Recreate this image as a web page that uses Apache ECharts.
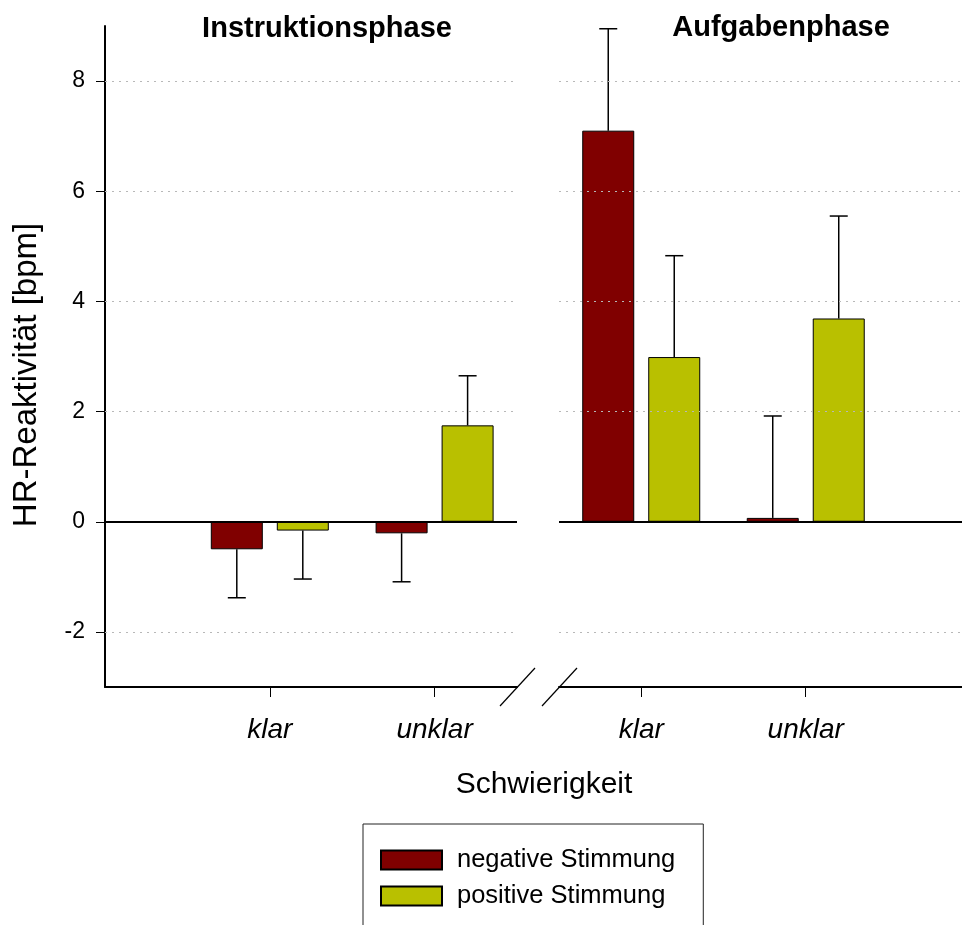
<!DOCTYPE html>
<html>
<head>
<meta charset="utf-8">
<script src="https://cdn.jsdelivr.net/npm/echarts@6/dist/echarts.min.js"></script>
<style>
html,body{margin:0;padding:0;background:#fff;}
#chart{width:962px;height:925px;}
</style>
</head>
<body>
<div id="chart"></div>
<script>
// ---- data ----
var categories = ['klar', 'unklar'];
var panelTitles = ['Instruktionsphase', 'Aufgabenphase'];
var seriesNames = ['negative Stimmung', 'positive Stimmung'];
var yTicks = [-2, 0, 2, 4, 6, 8];
var gridValues = [-2, 2, 4, 6, 8];
// Instruktionsphase
var instrNeg = [-0.50, -0.21];
var instrNegErr = [0.88, 0.88];
var instrPos = [-0.16, 1.75];
var instrPosErr = [0.88, 0.90];
// Aufgabenphase
var taskNeg = [7.10, 0.07];
var taskNegErr = [1.85, 1.85];
var taskPos = [2.99, 3.69];
var taskPosErr = [1.84, 1.86];

var catPos = [1, 2];
var colors = ['#800000', '#B9C000'];
var barW = 52, barGapPx = 14;
var off = (barW + barGapPx) / 2;

function pairs(vals) { return vals.map(function (v, i) { return [catPos[i], v]; }); }
function errData(vals, errs, side) {
  return vals.map(function (v, i) { return [catPos[i], v, errs[i], side]; });
}

var FONT = 'Liberation Sans, Arial, sans-serif';

function errorSeries(name, idx, data) {
  return {
    name: name, type: 'custom', xAxisIndex: idx, yAxisIndex: idx, z: 3,
    silent: true,
    renderItem: function (params, api) {
      var x = api.value(0), y = api.value(1), e = api.value(2), s = api.value(3);
      var sign = y >= 0 ? 1 : -1;
      var p0 = api.coord([x, y]);
      var p1 = api.coord([x, y + sign * e]);
      var cx = p0[0] + s * off;
      var st = { stroke: '#000', lineWidth: 1.5 };
      return {
        type: 'group',
        children: [
          { type: 'line', shape: { x1: cx, y1: p0[1], x2: cx, y2: p1[1] }, style: st },
          { type: 'line', shape: { x1: cx - 9, y1: p1[1], x2: cx + 9, y2: p1[1] }, style: st }
        ]
      };
    },
    data: data
  };
}

function refLines() {
  return {
    silent: true, symbol: 'none', animation: false,
    label: { show: false },
    data: gridValues.map(function (v) {
      return { yAxis: v, lineStyle: { color: '#b8b8b8', type: [2, 5], width: 1 } };
    }).concat([{ yAxis: 0, lineStyle: { color: '#000', type: 'solid', width: 2 } }])
  };
}

function barSeries(name, idx, vals, color, withMark) {
  var s = {
    name: name, type: 'bar', xAxisIndex: idx, yAxisIndex: idx,
    barWidth: barW, barGap: (barGapPx / barW * 100) + '%',
    itemStyle: { color: color, borderColor: '#000', borderWidth: 1 },
    data: pairs(vals), z: 2
  };
  if (withMark) s.markLine = refLines();
  return s;
}

function xAxisDef(idx, min, max) {
  return {
    type: 'value', gridIndex: idx, min: min, max: max,
    axisLine: { show: true, onZero: false, lineStyle: { color: '#000', width: 2 } },
    axisTick: { show: true, length: 10, customValues: catPos, lineStyle: { color: '#000', width: 1 } },
    axisLabel: {
      customValues: catPos, margin: 29,
      fontFamily: FONT, fontSize: 28, fontStyle: 'italic', color: '#000',
      formatter: function (v) { return categories[catPos.indexOf(Math.round(v))] || ''; }
    },
    splitLine: { show: false }
  };
}

var chart = echarts.init(document.getElementById('chart'), null, { renderer: 'canvas' });
var option = {
  animation: false,
  backgroundColor: '#fff',
  title: [
    { text: panelTitles[0], left: 322, top: 9, textAlign: 'center',
      textStyle: { fontFamily: FONT, fontSize: 29, fontWeight: 'bold', color: '#000' } },
    { text: panelTitles[1], left: 776, top: 8, textAlign: 'center',
      textStyle: { fontFamily: FONT, fontSize: 29, fontWeight: 'bold', color: '#000' } },
    { text: 'Schwierigkeit', left: 539, top: 765, textAlign: 'center',
      textStyle: { fontFamily: FONT, fontSize: 30, fontWeight: 'normal', color: '#000' } }
  ],
  grid: [
    { left: 105, top: 26, width: 412, height: 661 },
    { left: 559, top: 26, width: 403, height: 661 }
  ],
  xAxis: [xAxisDef(0, 0, 2.5), xAxisDef(1, 0.5, 2.95)],
  yAxis: [
    {
      type: 'value', gridIndex: 0, min: -3, max: 9,
      axisLine: { show: true, onZero: false, lineStyle: { color: '#000', width: 2 } },
      axisTick: { show: true, length: 9, customValues: yTicks, lineStyle: { color: '#000', width: 1 } },
      axisLabel: { customValues: yTicks, margin: 20, fontFamily: FONT, fontSize: 23, color: '#000' },
      splitLine: { show: false }
    },
    {
      type: 'value', gridIndex: 1, min: -3, max: 9, show: false,
      splitLine: { show: false }
    }
  ],
  legend: {
    orient: 'vertical', left: 363, top: 824, height: 140,
    data: seriesNames,
    itemWidth: 61, itemHeight: 19, itemGap: 10,
    padding: [23, 28, 40, 17],
    borderColor: '#222', borderWidth: 1,
    icon: 'rect',
    textStyle: { fontFamily: FONT, fontSize: 25.5, color: '#000', padding: [0, 0, 0, 10] },
    selectedMode: false
  },
  graphic: [
    { type: 'text', x: 27, y: 375, rotation: Math.PI / 2,
      style: { text: 'HR-Reaktivität [bpm]', font: 'normal 33px ' + FONT, fill: '#000',
               align: 'center', verticalAlign: 'middle' } },
    { type: 'line', shape: { x1: 500, y1: 706, x2: 535, y2: 668 }, style: { stroke: '#000', lineWidth: 1.2 } },
    { type: 'line', shape: { x1: 542, y1: 706, x2: 577, y2: 668 }, style: { stroke: '#000', lineWidth: 1.2 } }
  ],
  series: [
    barSeries(seriesNames[0], 0, instrNeg, colors[0], true),
    barSeries(seriesNames[1], 0, instrPos, colors[1], false),
    barSeries(seriesNames[0], 1, taskNeg, colors[0], true),
    barSeries(seriesNames[1], 1, taskPos, colors[1], false),
    errorSeries('errInstrNeg', 0, errData(instrNeg, instrNegErr, -1)),
    errorSeries('errInstrPos', 0, errData(instrPos, instrPosErr, 1)),
    errorSeries('errTaskNeg', 1, errData(taskNeg, taskNegErr, -1)),
    errorSeries('errTaskPos', 1, errData(taskPos, taskPosErr, 1))
  ]
};
chart.setOption(option);
</script>
</body>
</html>
